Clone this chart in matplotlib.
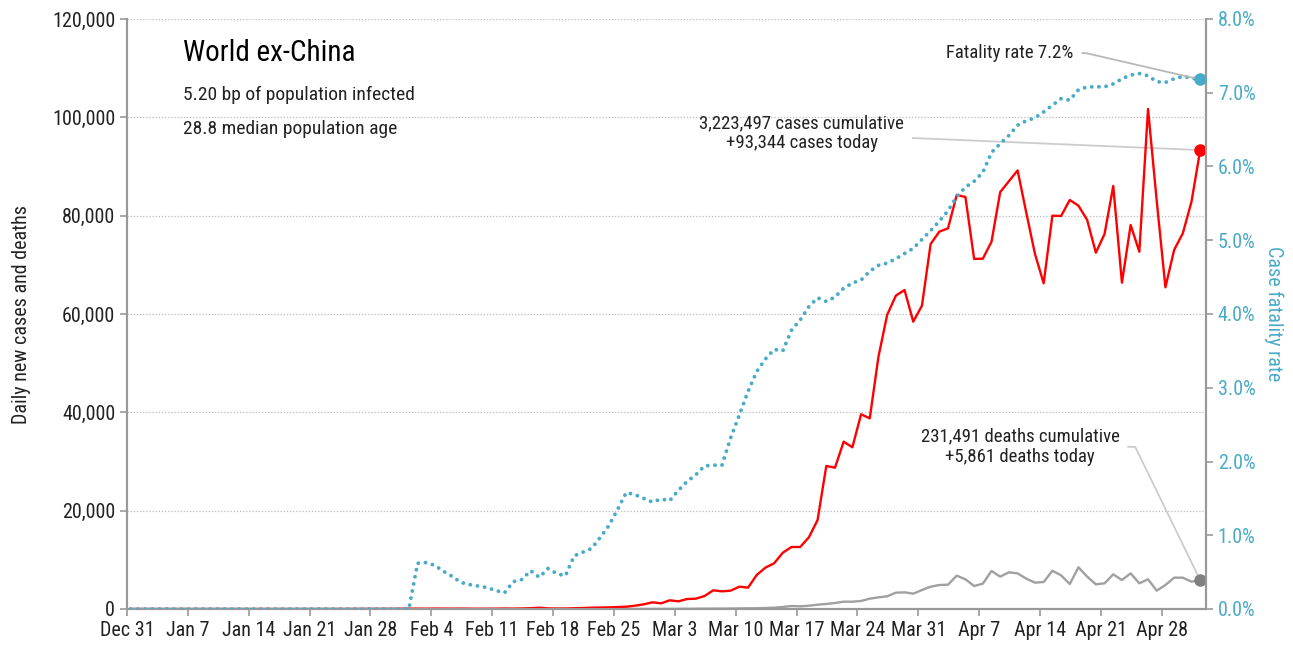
import matplotlib
matplotlib.use('Agg')
import matplotlib.pyplot as plt
import matplotlib.ticker as mticker
import pandas as pd
import numpy as np

plt.rcParams['font.family'] = ['Roboto Condensed', 'Liberation Sans Narrow', 'DejaVu Sans']
plt.rcParams['font.stretch'] = 'condensed'

# daily data, Dec 31 2019 .. May 2 2020
dates = pd.date_range('2019-12-31', periods=124, freq='D') + pd.Timedelta(hours=10)

new_cases = [
    0, 0, 0, 0, 0, 0, 0, 0, 0, 0, 0, 0, 0, 1, 0, 1, 1, 0, 1, 2,
    3, 4, 6, 8, 10, 14, 20, 25, 30, 28, 38, 50,
    60, 70, 55, 80, 70, 60, 75, 60, 45, 50, 65, 90, 70, 110,
    160, 260, 120, 90, 100, 150, 200, 260, 300, 330, 400,
    470, 670, 950, 1360, 1150, 1770, 1560, 2030, 2100, 2640,
    3800, 3590, 3730, 4540, 4340, 6920, 8410, 9290, 11450, 12610,
    12610, 14580, 18100, 29090, 28740, 34030, 32890, 39600, 38780, 51320,
    59820, 63730, 64880, 58440, 61690, 74240, 76750, 77430, 84200, 83800,
    71200, 71250, 74700, 84800, 87000, 89200, 80600, 72200, 66240, 80000,
    79930, 83190, 82030, 79120, 72470, 76270, 86030, 66370, 78100, 72670,
    101700, 83000, 65430, 73020, 76410, 82850, 93344,
]

new_deaths = [0] * 33 + [
    1, 0, 0, 1, 0, 0, 1, 0, 1, 0, 1, 1, 0, 1, 2, 1, 2, 3, 4, 5,
    5, 6, 8, 10, 12, 15, 18, 20,
    25, 30, 40, 50, 60, 70, 80, 90,
    100, 120, 150, 150,
    200, 270, 410, 610, 540, 670, 880, 1020, 1220, 1490, 1490, 1630,
    2100, 2370, 2580, 3320, 3390, 3120, 3860, 4540, 4880, 4950,
    6780, 6040, 4680, 5150, 7730, 6580, 7460, 7250, 6170, 5360,
    5490, 7790, 6850, 5080, 8480, 6580, 5020, 5220, 7050, 5900,
    7250, 5220, 6040, 3730, 4880, 6370, 6370, 5560, 5861,
]

fatality_rate = [0.0] * 33 + [
    0.62, 0.63, 0.59, 0.51, 0.44, 0.36, 0.33, 0.31, 0.29, 0.25, 0.22, 0.37,
    0.40, 0.52, 0.43, 0.55, 0.48, 0.45, 0.72, 0.77, 0.82, 0.97, 1.13, 1.35,
    1.58, 1.55, 1.50, 1.45, 1.49, 1.47, 1.61, 1.73, 1.82, 1.94, 1.95, 1.95,
    2.32, 2.63, 2.95, 3.22, 3.39, 3.52, 3.50, 3.78, 3.92, 4.10, 4.22, 4.17,
    4.23, 4.35, 4.42, 4.46, 4.58, 4.66, 4.69, 4.75, 4.82, 4.89, 5.01, 5.13,
    5.26, 5.40, 5.59, 5.72, 5.80, 5.92, 6.19, 6.31, 6.42, 6.56, 6.62, 6.66,
    6.74, 6.83, 6.92, 6.90, 7.04, 7.08, 7.08, 7.08, 7.12, 7.19, 7.24, 7.26,
    7.23, 7.15, 7.14, 7.19, 7.22, 7.20, 7.18,
]

tick_dates = pd.date_range('2019-12-31', '2020-04-28', freq='7D')

red = '#ff0000'
cyan = '#4aabc9'
grey = '#a0a0a0'
axis_grey = '#999999'

fig = plt.figure(figsize=(12.93, 6.49), dpi=100)
ax = fig.add_axes([127 / 1293, 1 - 609 / 649, (1206 - 127) / 1293, (609 - 19) / 649])
ax2 = ax.twinx()

ax.plot(dates, new_deaths, color=grey, lw=1.7, zorder=3)
ax.plot(dates, new_cases, color=red, lw=1.7, zorder=4)
ax2.plot(dates, fatality_rate, color=cyan, lw=2.8, linestyle=(0, (0.01, 1.85)),
         dash_capstyle='round', zorder=3)

ax.plot(dates[-1], new_cases[-1], 'o', color=red, ms=8, zorder=5, clip_on=False)
ax.plot(dates[-1], new_deaths[-1], 'o', color='#808080', ms=8, zorder=5, clip_on=False)
ax2.plot(dates[-1], fatality_rate[-1], 'o', color=cyan, ms=8, zorder=5, clip_on=False)

ax.set_xlim(pd.Timestamp('2019-12-31'), pd.Timestamp('2020-05-03 02:00'))
ax.set_ylim(0, 120000)
ax2.set_ylim(0, 8)

ax.set_yticks(np.arange(0, 120001, 20000))
ax.yaxis.set_major_formatter(mticker.FuncFormatter(lambda v, p: f'{int(v):,}'))
ax2.set_yticks(np.arange(0, 8.01, 1))
ax2.yaxis.set_major_formatter(mticker.FuncFormatter(lambda v, p: f'{v:.1f}%'))
ax.set_xticks(tick_dates)
ax.set_xticklabels([d.strftime('%b ') + str(d.day) for d in tick_dates])

ax.grid(axis='y', linestyle=(0, (1, 1.5)), color='#bbbbbb', lw=0.9)
ax.set_axisbelow(True)

for a in (ax, ax2):
    a.spines['top'].set_visible(False)
    for s in ('left', 'right', 'bottom'):
        a.spines[s].set_color(axis_grey)
        a.spines[s].set_linewidth(1.5)
ax.tick_params(axis='both', colors=axis_grey, labelcolor='#222222', labelsize=14.5,
               length=5, width=1.2)
ax2.tick_params(axis='y', colors=axis_grey, labelcolor=cyan, labelsize=14.5,
                length=5, width=1.2)
ax.tick_params(axis='x', pad=4)

ax.set_ylabel('Daily new cases and deaths', fontsize=14.5, color='#222222', labelpad=15)
ax2.set_ylabel('Case fatality rate', fontsize=14.5, color=cyan, rotation=270, labelpad=20)

# title block
ax.text(0.052, 0.966, 'World ex-China', transform=ax.transAxes, fontsize=21,
        color='black', va='top', ha='left')
ax.text(0.052, 0.886, '5.20 bp of population infected', transform=ax.transAxes,
        fontsize=14, color='#222222', va='top', ha='left')
ax.text(0.052, 0.828, '28.8 median population age', transform=ax.transAxes,
        fontsize=14, color='#222222', va='top', ha='left')

# annotations
ax2.annotate('Fatality rate 7.2%', xy=(dates[-1], fatality_rate[-1]),
             xytext=(-91, 19), textcoords='offset points', fontsize=13.5,
             ha='right', va='center', color='#222222',
             arrowprops=dict(arrowstyle='-', color='#b8b8b8', lw=1.3,
                             connectionstyle='angle,angleA=0,angleB=167,rad=0',
                             shrinkA=4, shrinkB=0))
ax.annotate('3,223,497 cases cumulative\n+93,344 cases today',
            xy=(dates[-1], new_cases[-1]), xytext=(-213, 12),
            textcoords='offset points', fontsize=13.5, ha='right', va='center',
            multialignment='center', color='#222222', linespacing=1.15,
            arrowprops=dict(arrowstyle='-', color='#cccccc', lw=1.3,
                            shrinkA=4, shrinkB=0))
ax.annotate('231,491 deaths cumulative\n+5,861 deaths today',
            xy=(dates[-1], new_deaths[-1]), xytext=(-58, 96),
            textcoords='offset points', fontsize=13.5, ha='right', va='center',
            multialignment='center', color='#222222', linespacing=1.15,
            arrowprops=dict(arrowstyle='-', color='#cccccc', lw=1.3,
                            connectionstyle='angle,angleA=0,angleB=116,rad=0',
                            shrinkA=4, shrinkB=0))

plt.savefig('out.png', dpi=100)
